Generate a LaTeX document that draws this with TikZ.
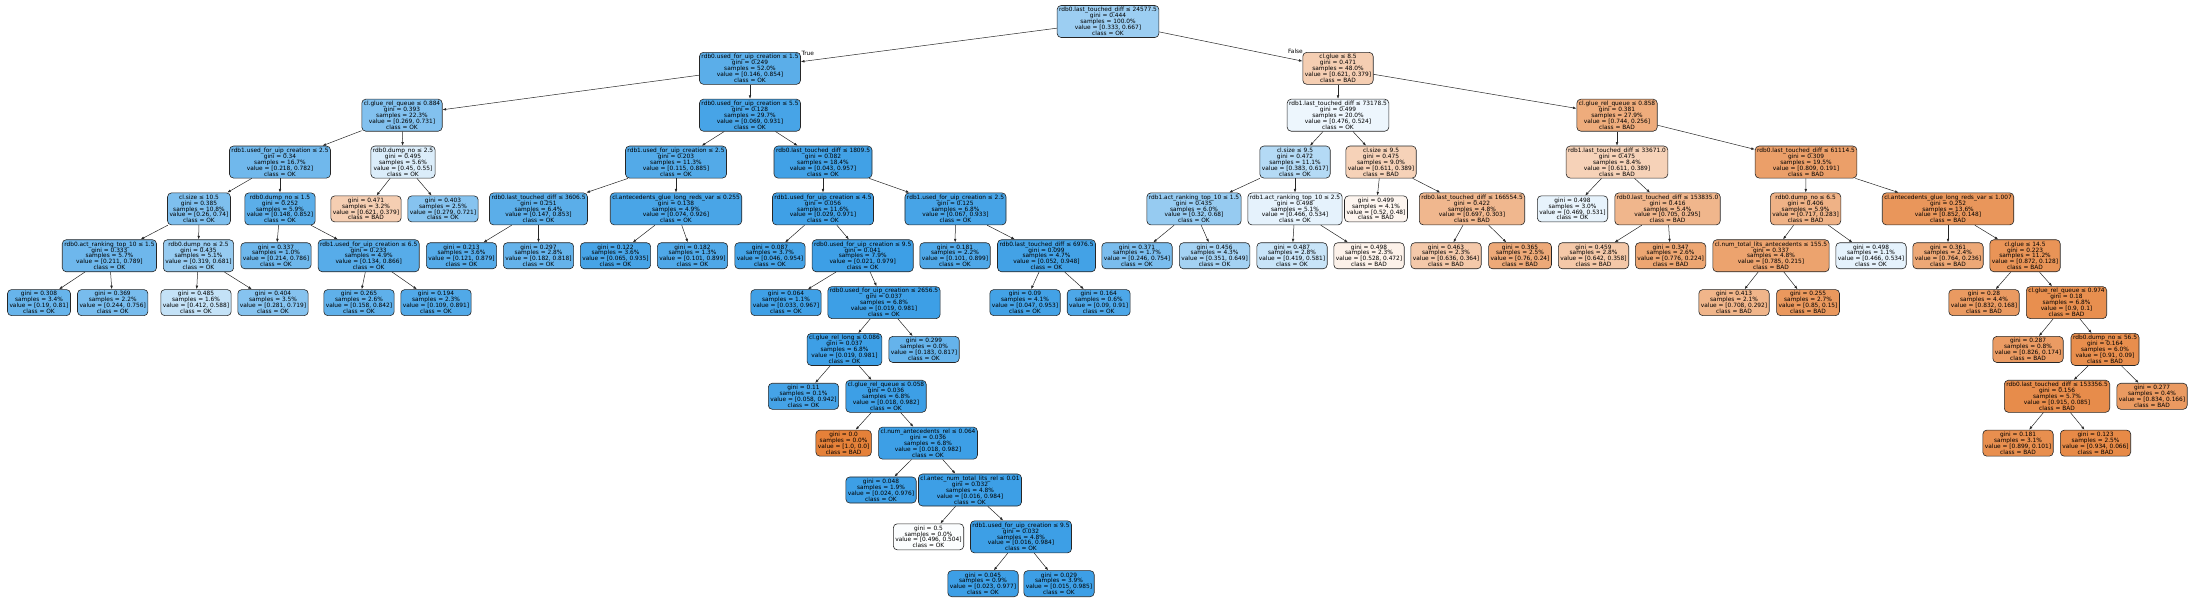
\documentclass[tikz,border=0pt]{standalone}
\usepackage{fontspec}
\setmainfont{DejaVu Sans}
\usetikzlibrary{arrows.meta}
\definecolor{okc}{RGB}{57,157,229}
\definecolor{badc}{RGB}{229,129,57}
\newcommand\tfont{\fontsize{5.85}{5.92}\selectfont}
\newcommand\dn[5]{#1\\gini = #2\\samples = #3\\value = #4\\class = #5}
\newcommand\lfn[4]{gini = #1\\samples = #2\\value = #3\\class = #4}
\tikzset{
  tn/.style={draw=black!85, rounded corners=4pt, align=center, inner xsep=2pt, inner ysep=1.9pt, font=\tfont, line width=0.6pt, text=black},
  okn/.style={tn, fill=okc!#1!white},
  badn/.style={tn, fill=badc!#1!white},
  edg/.style={-{Latex[length=3.6pt,width=2.6pt]}, line width=0.5pt, black!85},
  elab/.style={font=\tfont, inner sep=0.5pt}
}
\begin{document}
\begin{tikzpicture}[x=1pt,y=1pt]
\useasboundingbox (0,0) rectangle (2195,-601);
% level 0
\node[okn=50] (n0) at (1108,-21.5) {\dn{rdb0.last\_touched\_diff ≤ 24577.5}{0.444}{100.0\%}{[0.333, 0.667]}{OK}};
% level 1
\node[okn=83] (n1) at (750,-68.35) {\dn{rdb0.used\_for\_uip\_creation ≤ 1.5}{0.249}{52.0\%}{[0.146, 0.854]}{OK}};
\node[badn=39] (n2) at (1338,-68.35) {\dn{cl.glue ≤ 8.5}{0.471}{48.0\%}{[0.621, 0.379]}{BAD}};
% level 2
\node[okn=63] (n3) at (402,-115.2) {\dn{cl.glue\_rel\_queue ≤ 0.884}{0.393}{22.3\%}{[0.269, 0.731]}{OK}};
\node[okn=93] (n4) at (750,-115.2) {\dn{rdb0.used\_for\_uip\_creation ≤ 5.5}{0.128}{29.7\%}{[0.069, 0.931]}{OK}};
\node[okn=9] (n5) at (1338,-115.2) {\dn{rdb1.last\_touched\_diff ≤ 73178.5}{0.499}{20.0\%}{[0.476, 0.524]}{OK}};
\node[badn=66] (n6) at (1617,-115.2) {\dn{cl.glue\_rel\_queue ≤ 0.858}{0.381}{27.9\%}{[0.744, 0.256]}{BAD}};
% level 3
\node[okn=72] (n7) at (280,-162.05) {\dn{rdb1.used\_for\_uip\_creation ≤ 2.5}{0.34}{16.7\%}{[0.218, 0.782]}{OK}};
\node[okn=18] (n8) at (403,-162.05) {\dn{rdb0.dump\_no ≤ 2.5}{0.495}{5.6\%}{[0.45, 0.55]}{OK}};
\node[okn=87] (n9) at (676,-162.05) {\dn{rdb1.used\_for\_uip\_creation ≤ 2.5}{0.203}{11.3\%}{[0.115, 0.885]}{OK}};
\node[okn=96] (n10) at (823,-162.05) {\dn{rdb0.last\_touched\_diff ≤ 1809.5}{0.082}{18.4\%}{[0.043, 0.957]}{OK}};
\node[okn=38] (n11) at (1295,-162.05) {\dn{cl.size ≤ 9.5}{0.472}{11.1\%}{[0.383, 0.617]}{OK}};
\node[badn=36] (n12) at (1381,-162.05) {\dn{cl.size ≤ 9.5}{0.475}{9.0\%}{[0.611, 0.389]}{BAD}};
\node[badn=36] (n13) at (1617,-162.05) {\dn{rdb1.last\_touched\_diff ≤ 33671.0}{0.475}{8.4\%}{[0.611, 0.389]}{BAD}};
\node[badn=76] (n14) at (1806,-162.05) {\dn{rdb0.last\_touched\_diff ≤ 61114.5}{0.309}{19.5\%}{[0.809, 0.191]}{BAD}};
% level 4
\node[okn=65] (n15) at (199,-208.9) {\dn{cl.size ≤ 10.5}{0.385}{10.8\%}{[0.26, 0.74]}{OK}};
\node[okn=83] (n16) at (280,-208.9) {\dn{rdb0.dump\_no ≤ 1.5}{0.252}{5.9\%}{[0.148, 0.852]}{OK}};
\node[badn=39] (n17) at (366,-208.9) {\lfn{0.471}{3.2\%}{[0.621, 0.379]}{BAD}};
\node[okn=61] (n18) at (443,-208.9) {\lfn{0.403}{2.5\%}{[0.279, 0.721]}{OK}};
\node[okn=83] (n19) at (538.5,-208.9) {\dn{rdb0.last\_touched\_diff ≤ 3606.5}{0.251}{6.4\%}{[0.147, 0.853]}{OK}};
\node[okn=92] (n20) at (676,-208.9) {\dn{cl.antecedents\_glue\_long\_reds\_var ≤ 0.255}{0.138}{4.9\%}{[0.074, 0.926]}{OK}};
\node[okn=97] (n21) at (823,-208.9) {\dn{rdb1.used\_for\_uip\_creation ≤ 4.5}{0.056}{11.6\%}{[0.029, 0.971]}{OK}};
\node[okn=93] (n22) at (955.5,-208.9) {\dn{rdb1.used\_for\_uip\_creation ≤ 2.5}{0.125}{6.8\%}{[0.067, 0.933]}{OK}};
\node[okn=53] (n23) at (1194,-208.9) {\dn{rdb1.act\_ranking\_top\_10 ≤ 1.5}{0.435}{6.0\%}{[0.32, 0.68]}{OK}};
\node[okn=13] (n24) at (1295,-208.9) {\dn{rdb1.act\_ranking\_top\_10 ≤ 2.5}{0.498}{5.1\%}{[0.466, 0.534]}{OK}};
\node[badn=8] (n25) at (1376,-208.9) {\lfn{0.499}{4.1\%}{[0.52, 0.48]}{BAD}};
\node[badn=57] (n26) at (1472,-208.9) {\dn{rdb0.last\_touched\_diff ≤ 166554.5}{0.422}{4.8\%}{[0.697, 0.303]}{BAD}};
\node[okn=12] (n27) at (1572.5,-208.9) {\lfn{0.498}{3.0\%}{[0.469, 0.531]}{OK}};
\node[badn=58] (n28) at (1667.5,-208.9) {\dn{rdb0.last\_touched\_diff ≤ 153835.0}{0.416}{5.4\%}{[0.705, 0.295]}{BAD}};
\node[badn=61] (n29) at (1805.6,-208.9) {\dn{rdb0.dump\_no ≤ 6.5}{0.406}{5.9\%}{[0.717, 0.283]}{BAD}};
\node[badn=83] (n30) at (1948,-208.9) {\dn{cl.antecedents\_glue\_long\_reds\_var ≤ 1.007}{0.252}{13.6\%}{[0.852, 0.148]}{BAD}};
% level 5
\node[okn=73] (n31) at (109.4,-255.75) {\dn{rdb0.act\_ranking\_top\_10 ≤ 1.5}{0.333}{5.7\%}{[0.211, 0.789]}{OK}};
\node[okn=53] (n32) at (198.5,-255.75) {\dn{rdb0.dump\_no ≤ 2.5}{0.435}{5.1\%}{[0.319, 0.681]}{OK}};
\node[okn=73] (n33) at (276,-255.75) {\lfn{0.337}{1.0\%}{[0.214, 0.786]}{OK}};
\node[okn=85] (n34) at (368.7,-255.75) {\dn{rdb1.used\_for\_uip\_creation ≤ 6.5}{0.233}{4.9\%}{[0.134, 0.866]}{OK}};
\node[okn=86] (n35) at (461.5,-255.75) {\lfn{0.213}{3.6\%}{[0.121, 0.879]}{OK}};
\node[okn=78] (n36) at (538.5,-255.75) {\lfn{0.297}{2.8\%}{[0.182, 0.818]}{OK}};
\node[okn=93] (n37) at (615.5,-255.75) {\lfn{0.122}{3.6\%}{[0.065, 0.935]}{OK}};
\node[okn=89] (n38) at (692.5,-255.75) {\lfn{0.182}{1.3\%}{[0.101, 0.899]}{OK}};
\node[okn=95] (n39) at (770,-255.75) {\lfn{0.087}{3.7\%}{[0.046, 0.954]}{OK}};
\node[okn=98] (n40) at (862.7,-255.75) {\dn{rdb0.used\_for\_uip\_creation ≤ 9.5}{0.041}{7.9\%}{[0.021, 0.979]}{OK}};
\node[okn=89] (n41) at (955,-255.75) {\lfn{0.181}{2.2\%}{[0.101, 0.899]}{OK}};
\node[okn=95] (n42) at (1046.5,-255.75) {\dn{rdb0.last\_touched\_diff ≤ 6976.5}{0.099}{4.7\%}{[0.052, 0.948]}{OK}};
\node[okn=67] (n43) at (1137,-255.75) {\lfn{0.371}{1.7\%}{[0.246, 0.754]}{OK}};
\node[okn=46] (n44) at (1214.6,-255.75) {\lfn{0.456}{4.3\%}{[0.351, 0.649]}{OK}};
\node[okn=28] (n45) at (1292,-255.75) {\lfn{0.487}{2.8\%}{[0.419, 0.581]}{OK}};
\node[badn=11] (n46) at (1369,-255.75) {\lfn{0.498}{2.3\%}{[0.528, 0.472]}{BAD}};
\node[badn=43] (n47) at (1446,-255.75) {\lfn{0.463}{2.3\%}{[0.636, 0.364]}{BAD}};
\node[badn=68] (n48) at (1520,-255.75) {\lfn{0.365}{2.5\%}{[0.76, 0.24]}{BAD}};
\node[badn=44] (n49) at (1593.5,-255.75) {\lfn{0.459}{2.8\%}{[0.642, 0.358]}{BAD}};
\node[badn=71] (n50) at (1670.6,-255.75) {\lfn{0.347}{2.6\%}{[0.776, 0.224]}{BAD}};
\node[badn=73] (n51) at (1771,-255.75) {\dn{cl.num\_total\_lits\_antecedents ≤ 155.5}{0.337}{4.8\%}{[0.785, 0.215]}{BAD}};
\node[okn=13] (n52) at (1871,-255.75) {\lfn{0.498}{1.1\%}{[0.466, 0.534]}{OK}};
\node[badn=69] (n53) at (1948,-255.75) {\lfn{0.361}{2.4\%}{[0.764, 0.236]}{BAD}};
\node[badn=85] (n54) at (2025,-255.75) {\dn{cl.glue ≤ 14.5}{0.223}{11.2\%}{[0.872, 0.128]}{BAD}};
% level 6
\node[okn=77] (n55) at (39,-302.6) {\lfn{0.308}{3.4\%}{[0.19, 0.81]}{OK}};
\node[okn=68] (n56) at (112.7,-302.6) {\lfn{0.369}{2.2\%}{[0.244, 0.756]}{OK}};
\node[okn=30] (n57) at (196,-302.6) {\lfn{0.485}{1.6\%}{[0.412, 0.588]}{OK}};
\node[okn=61] (n58) at (273,-302.6) {\lfn{0.404}{3.5\%}{[0.281, 0.719]}{OK}};
\node[okn=81] (n59) at (359,-302.6) {\lfn{0.265}{2.6\%}{[0.158, 0.842]}{OK}};
\node[okn=88] (n60) at (436,-302.6) {\lfn{0.194}{2.3\%}{[0.109, 0.891]}{OK}};
\node[okn=97] (n61) at (786,-302.6) {\lfn{0.064}{1.1\%}{[0.033, 0.967]}{OK}};
\node[okn=98] (n62) at (884,-302.6) {\dn{rdb0.used\_for\_uip\_creation ≤ 2656.5}{0.037}{6.8\%}{[0.019, 0.981]}{OK}};
\node[okn=95] (n63) at (1025,-302.6) {\lfn{0.09}{4.1\%}{[0.047, 0.953]}{OK}};
\node[okn=90] (n64) at (1098.7,-302.6) {\lfn{0.164}{0.6\%}{[0.09, 0.91]}{OK}};
\node[badn=59] (n65) at (1734,-302.6) {\lfn{0.413}{2.1\%}{[0.708, 0.292]}{BAD}};
\node[badn=82] (n66) at (1808,-302.6) {\lfn{0.255}{2.7\%}{[0.85, 0.15]}{BAD}};
\node[badn=80] (n67) at (1984,-302.6) {\lfn{0.28}{4.4\%}{[0.832, 0.168]}{BAD}};
\node[badn=89] (n68) at (2066.5,-302.6) {\dn{cl.glue\_rel\_queue ≤ 0.974}{0.18}{6.8\%}{[0.9, 0.1]}{BAD}};
% level 7
\node[okn=98] (n69) at (844.5,-349.45) {\dn{cl.glue\_rel\_long ≤ 0.086}{0.037}{6.8\%}{[0.019, 0.981]}{OK}};
\node[okn=78] (n70) at (924,-349.45) {\lfn{0.299}{0.0\%}{[0.183, 0.817]}{OK}};
\node[badn=79] (n71) at (2028,-349.45) {\lfn{0.287}{0.8\%}{[0.826, 0.174]}{BAD}};
\node[badn=90] (n72) at (2105,-349.45) {\dn{rdb0.dump\_no ≤ 56.5}{0.164}{6.0\%}{[0.91, 0.09]}{BAD}};
% level 8
\node[okn=94] (n73) at (803.5,-396.3) {\lfn{0.11}{0.1\%}{[0.058, 0.942]}{OK}};
\node[okn=98] (n74) at (886,-396.3) {\dn{cl.glue\_rel\_queue ≤ 0.058}{0.036}{6.8\%}{[0.018, 0.982]}{OK}};
\node[badn=91] (n75) at (2057,-396.3) {\dn{rdb0.last\_touched\_diff ≤ 153356.5}{0.156}{5.7\%}{[0.915, 0.085]}{BAD}};
\node[badn=80] (n76) at (2152,-396.3) {\lfn{0.277}{0.4\%}{[0.834, 0.166]}{BAD}};
% level 9
\node[badn=100] (n77) at (843.6,-443.15) {\lfn{0.0}{0.0\%}{[1.0, 0.0]}{BAD}};
\node[okn=98] (n78) at (928,-443.15) {\dn{cl.num\_antecedents\_rel ≤ 0.064}{0.036}{6.8\%}{[0.018, 0.982]}{OK}};
\node[badn=89] (n79) at (2018,-443.15) {\lfn{0.181}{3.1\%}{[0.899, 0.101]}{BAD}};
\node[badn=93] (n80) at (2095.5,-443.15) {\lfn{0.123}{2.5\%}{[0.934, 0.066]}{BAD}};
% level 10
\node[okn=98] (n81) at (881,-490) {\lfn{0.048}{1.9\%}{[0.024, 0.976]}{OK}};
\node[okn=98] (n82) at (970,-490) {\dn{cl.antec\_num\_total\_lits\_rel ≤ 0.01}{0.032}{4.8\%}{[0.016, 0.984]}{OK}};
% level 11
\node[okn=2] (n83) at (928.5,-536.85) {\lfn{0.5}{0.0\%}{[0.496, 0.504]}{OK}};
\node[okn=98] (n84) at (1021,-536.85) {\dn{rdb1.used\_for\_uip\_creation ≤ 9.5}{0.032}{4.8\%}{[0.016, 0.984]}{OK}};
% level 12
\node[okn=98] (n85) at (983,-583.7) {\lfn{0.045}{0.9\%}{[0.023, 0.977]}{OK}};
\node[okn=98] (n86) at (1059,-583.7) {\lfn{0.029}{3.9\%}{[0.015, 0.985]}{OK}};
% edges
\foreach \p/\c in {0/1,0/2,1/3,1/4,2/5,2/6,3/7,3/8,4/9,4/10,5/11,5/12,6/13,6/14,
  7/15,7/16,8/17,8/18,9/19,9/20,10/21,10/22,11/23,11/24,12/25,12/26,13/27,13/28,14/29,14/30,
  15/31,15/32,16/33,16/34,19/35,19/36,20/37,20/38,21/39,21/40,22/41,22/42,23/43,23/44,
  24/45,24/46,26/47,26/48,28/49,28/50,29/51,29/52,30/53,30/54,31/55,31/56,32/57,32/58,
  34/59,34/60,40/61,40/62,42/63,42/64,51/65,51/66,54/67,54/68,62/69,62/70,68/71,68/72,
  69/73,69/74,72/75,72/76,74/77,74/78,75/79,75/80,78/81,78/82,82/83,82/84,84/85,84/86}
  \draw[edg] (n\p) -- (n\c);
\node[elab, anchor=west] (tlab) at ([yshift=-1pt]n1.north east) {True};
\node[elab, anchor=east] (flab) at ([xshift=1pt,yshift=0.5pt]n2.north west) {False};
\end{tikzpicture}
\end{document}
